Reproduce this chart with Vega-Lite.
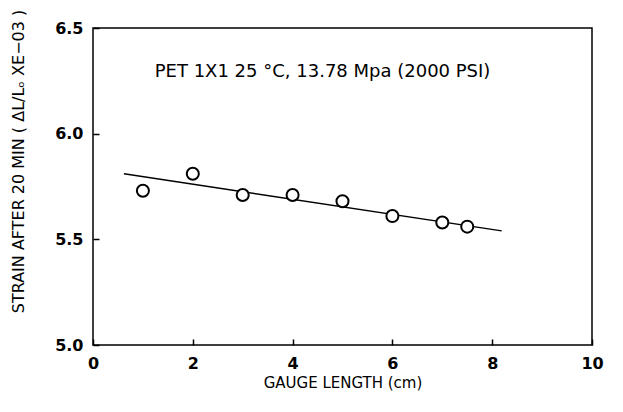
{
  "$schema": "https://vega.github.io/schema/vega-lite/v6.json",
  "width": 499,
  "height": 317,
  "autosize": {"type": "none"},
  "padding": {"left": 93, "top": 28, "right": 31, "bottom": 67},
  "background": "white",
  "config": {
    "font": "DejaVu Sans",
    "view": {"stroke": "black", "strokeWidth": 1.5},
    "axis": {
      "grid": false,
      "domain": false,
      "tickColor": "black",
      "tickSize": -6,
      "tickWidth": 1.5,
      "labelColor": "black",
      "labelFont": "DejaVu Sans",
      "labelFontSize": 16,
      "labelFontWeight": "bold",
      "labelFlush": false,
      "labelOverlap": false,
      "titleColor": "black",
      "titleFont": "DejaVu Sans",
      "titleFontSize": 15,
      "titleFontWeight": "normal"
    }
  },
  "datasets": {
    "points": [
      {"gauge": 1.0, "strain": 5.73},
      {"gauge": 2.0, "strain": 5.81},
      {"gauge": 3.0, "strain": 5.71},
      {"gauge": 4.0, "strain": 5.71},
      {"gauge": 5.0, "strain": 5.68},
      {"gauge": 6.0, "strain": 5.61},
      {"gauge": 7.0, "strain": 5.58},
      {"gauge": 7.5, "strain": 5.56}
    ],
    "fit": [
      {"gauge": 0.62, "strain": 5.81},
      {"gauge": 8.19, "strain": 5.54}
    ],
    "note": [
      {"label": "PET 1X1 25 °C, 13.78 Mpa (2000 PSI)", "gauge": 4.6, "strain": 6.29}
    ]
  },
  "layer": [
    {
      "data": {"name": "fit"},
      "mark": {"type": "line", "color": "black", "strokeWidth": 1.5},
      "encoding": {
        "x": {
          "field": "gauge", "type": "quantitative",
          "scale": {"domain": [0, 10], "nice": false},
          "axis": {"values": [0, 2, 4, 6, 8, 10], "format": "d", "labelPadding": 16, "title": "GAUGE LENGTH (cm)", "titlePadding": 4}
        },
        "y": {
          "field": "strain", "type": "quantitative",
          "scale": {"domain": [5.0, 6.5], "nice": false, "zero": false},
          "axis": {"values": [5.0, 5.5, 6.0, 6.5], "format": ".1f", "labelPadding": 16, "title": "STRAIN AFTER 20 MIN ( ΔL/Lₒ XE−03 )", "titleFontSize": 16, "titlePadding": 28, "titleY": 133}
        }
      }
    },
    {
      "data": {"name": "points"},
      "mark": {"type": "point", "shape": "circle", "size": 145, "filled": false, "fill": "white", "fillOpacity": 1, "stroke": "black", "strokeWidth": 2, "opacity": 1},
      "encoding": {
        "x": {"field": "gauge", "type": "quantitative"},
        "y": {"field": "strain", "type": "quantitative"}
      }
    },
    {
      "data": {"name": "note"},
      "mark": {"type": "text", "fontSize": 18, "color": "black", "font": "DejaVu Sans", "align": "center", "baseline": "middle"},
      "encoding": {
        "x": {"field": "gauge", "type": "quantitative"},
        "y": {"field": "strain", "type": "quantitative"},
        "text": {"field": "label"}
      }
    }
  ]
}
